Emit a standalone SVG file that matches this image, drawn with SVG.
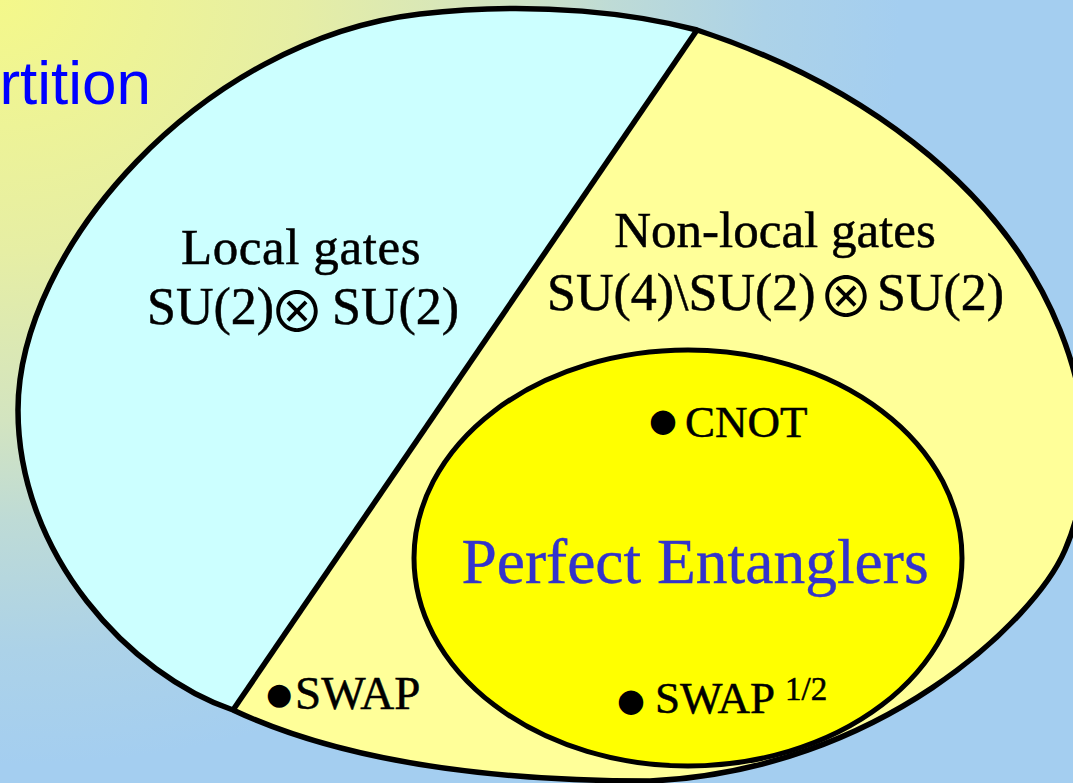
<svg xmlns="http://www.w3.org/2000/svg" width="1073" height="783" viewBox="0 0 1073 783">
<defs>
<radialGradient id="bg" gradientUnits="userSpaceOnUse" cx="0" cy="0" r="900" gradientTransform="scale(1,0.85)">
<stop offset="0" stop-color="#F4F88A"/>
<stop offset="0.33" stop-color="#E6EEA4"/>
<stop offset="0.55" stop-color="#D3E4C0"/>
<stop offset="0.68" stop-color="#BEDBD6"/>
<stop offset="0.85" stop-color="#ACD2E8"/>
<stop offset="1" stop-color="#A4CEF0"/>
</radialGradient>
<style>
.outline{fill:none;stroke:#000;stroke-width:5.5;stroke-linejoin:round}
.lbl{font-family:"Liberation Serif","Times New Roman",serif;fill:#000;stroke:#000;stroke-width:0.5}
.op{font-family:"Noto Sans CJK JP","DejaVu Sans",sans-serif;font-weight:400;fill:#000}
.bul{font-family:"DejaVu Sans",sans-serif;fill:#000}
</style>
</defs>
<rect x="0" y="0" width="1073" height="783" fill="url(#bg)"/>
<text x="151" y="104" text-anchor="end" font-family="Liberation Sans, Arial, sans-serif" font-size="62" fill="#0000FF">rtition</text>
<g id="local-gates">
<path d="M697,30 L233,710 C130,675 18,555 18,410 C18,250 200,40 420,14 C540,0 640,15 697,30 Z" fill="#CCFFFF"/>
<text class="lbl" x="301" y="264" text-anchor="middle" font-size="51" letter-spacing="0.6">Local gates</text>
<text class="lbl" x="147" y="324" font-size="52">SU(2)</text>
<text class="op" x="297" y="332" text-anchor="middle" font-size="56">⊗</text>
<text class="lbl" x="332" y="324" font-size="52">SU(2)</text>
</g>
<g id="non-local-gates">
<path d="M697,30 C850,80 1000,180 1060,330 C1090,405 1095,480 1065,550 C1035,620 880,770 650,781 C500,781 350,765 233,710 Z" fill="#FFFF99"/>
<text class="lbl" x="775" y="247" text-anchor="middle" font-size="51">Non-local gates</text>
<text class="lbl" x="547" y="310" font-size="52">SU(4)\SU(2)</text>
<text class="op" x="846" y="317" text-anchor="middle" font-size="56">⊗</text>
<text class="lbl" x="877" y="310" font-size="52">SU(2)</text>
</g>
<g id="outlines">
<path class="outline" d="M697,30 C850,80 1000,180 1060,330 C1090,405 1095,480 1065,550 C1035,620 880,770 650,781 C500,781 350,765 233,710 C130,675 18,555 18,410 C18,250 200,40 420,14 C540,0 640,15 697,30 Z"/>
<path class="outline" d="M697,30 L233,710"/>
</g>
<g id="perfect-entanglers">
<ellipse cx="688" cy="558" rx="274" ry="208" fill="#FFFF00" stroke="#000" stroke-width="5"/>
<text x="695" y="583" text-anchor="middle" font-family="Liberation Serif, serif" font-size="63.5" fill="#3333CC" stroke="#3333CC" stroke-width="0.4">Perfect Entanglers</text>
</g>
<g id="cnot">
<text class="bul" x="663" y="431" text-anchor="middle" font-size="32">●</text>
<text class="lbl" x="685" y="437" font-size="45">CNOT</text>
</g>
<g id="swap">
<text class="bul" x="279" y="704" text-anchor="middle" font-size="30">●</text>
<text class="lbl" x="295" y="709" font-size="47">SWAP</text>
</g>
<g id="swap-half">
<text class="bul" x="631" y="711" text-anchor="middle" font-size="32">●</text>
<text class="lbl" x="655" y="713" font-size="45">SWAP<tspan font-size="33" dx="10" dy="-13">1/2</tspan></text>
</g>
</svg>
